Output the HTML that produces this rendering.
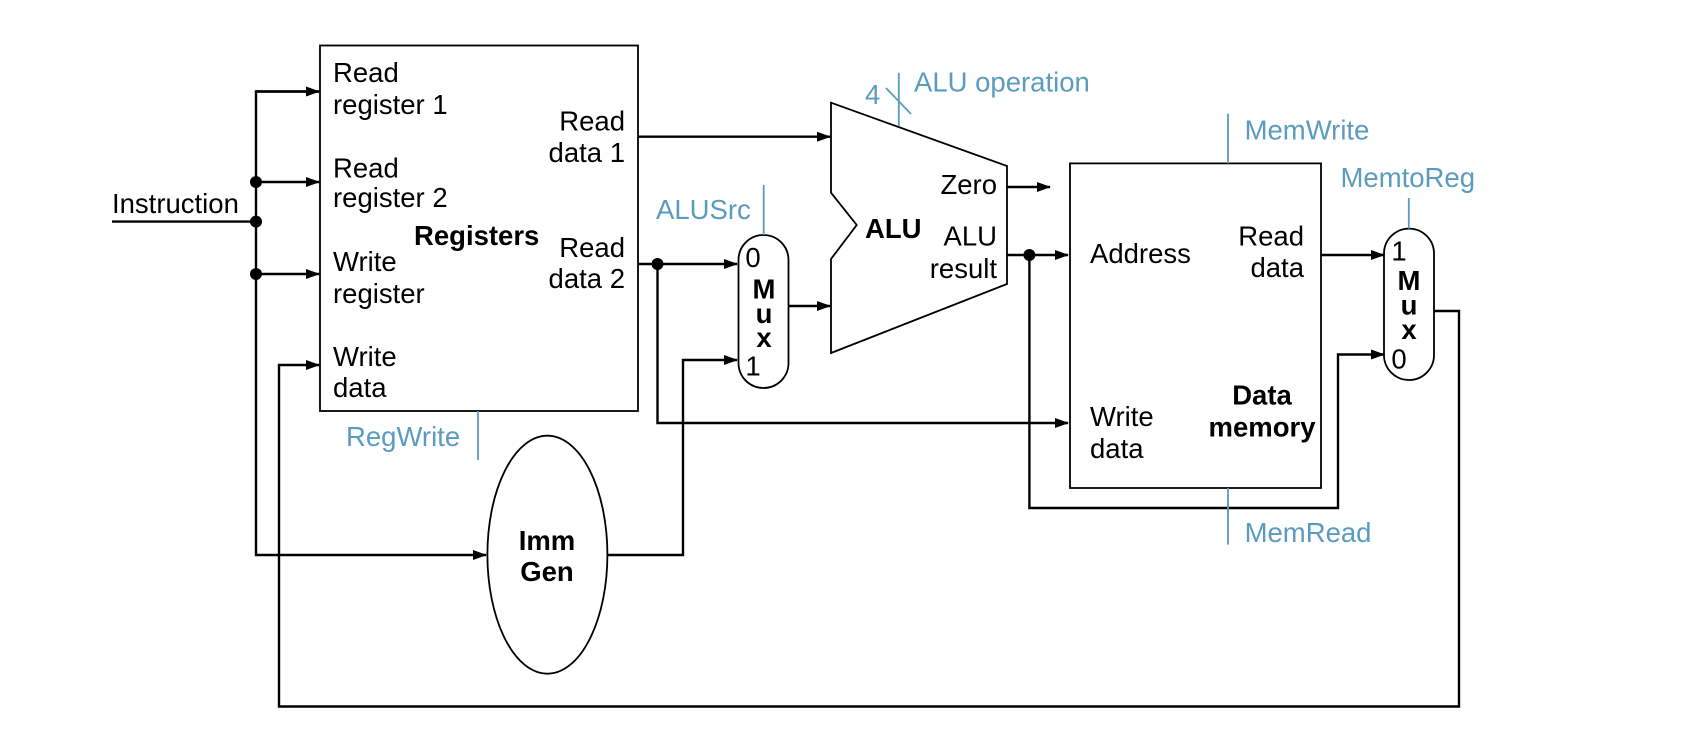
<!DOCTYPE html>
<html><head><meta charset="utf-8"><style>
body{margin:0;background:#fff}
svg{display:block}
text{font-family:"Liberation Sans",Arial,sans-serif;font-size:27.5px;fill:#000}
.b{font-weight:bold}
.c{fill:#5b9bc0}
</style></head><body>
<svg width="1694" height="736" viewBox="0 0 1694 736" xmlns="http://www.w3.org/2000/svg">
<defs><marker id="a" markerWidth="14" markerHeight="10" refX="13" refY="5" orient="auto" markerUnits="userSpaceOnUse"><path d="M0,0 L14,5 L0,10 Z" fill="#000"/></marker></defs>
<g fill="none" stroke="#000" stroke-width="2.4">
<rect x="320" y="45.5" width="318" height="365.5" stroke-width="1.8"/>
<line x1="112" y1="221.6" x2="256" y2="221.6"/>
<polyline points="319,91.5 256,91.5 256,555 486,555" marker-end="url(#a)"/>
<line x1="256" y1="182" x2="319" y2="182" marker-end="url(#a)"/>
<line x1="256" y1="274" x2="319" y2="274" marker-end="url(#a)"/>
<polyline points="256,91.5 319,91.5" marker-end="url(#a)"/>
<polyline points="1434,311 1459,311 1459,706.5 279,706.5 279,365 319,365" marker-end="url(#a)"/>
<line x1="638" y1="136.7" x2="830" y2="136.7" marker-end="url(#a)"/>
<line x1="638" y1="264" x2="737" y2="264" marker-end="url(#a)"/>
<polyline points="657.5,264 657.5,423 1068,423" marker-end="url(#a)"/>
<ellipse cx="547.4" cy="554.7" rx="60" ry="119" stroke-width="1.8"/>
<polyline points="607,555 683,555 683,360 737,360" marker-end="url(#a)"/>
<rect x="738.5" y="235" width="50" height="153" rx="25" ry="25" stroke-width="1.8"/>
<line x1="789" y1="306" x2="830" y2="306" marker-end="url(#a)"/>
<polygon points="831,102.7 1007,166 1007,284 831,353 831,259 856.7,225 831,192.7" stroke-width="1.8"/>
<line x1="1007" y1="187" x2="1050" y2="187" marker-end="url(#a)"/>
<line x1="1007" y1="255" x2="1068" y2="255" marker-end="url(#a)"/>
<polyline points="1029.4,255 1029.4,508 1338,508 1338,354.5 1384,354.5" marker-end="url(#a)"/>
<rect x="1070" y="163.4" width="251" height="324.6" stroke-width="1.8"/>
<line x1="1321" y1="255" x2="1384" y2="255" marker-end="url(#a)"/>
<rect x="1384" y="228.6" width="50" height="151.4" rx="25" ry="25" stroke-width="1.8"/>
</g>
<g fill="#000">
<circle cx="256" cy="182" r="6"/><circle cx="256" cy="221.6" r="6"/><circle cx="256" cy="274" r="6"/>
<circle cx="657.5" cy="264" r="6"/><circle cx="1029.4" cy="255" r="6"/>
</g>
<g stroke="#5b9bc0" stroke-width="1.8">
<line x1="478" y1="411" x2="478" y2="460"/>
<line x1="763.7" y1="185" x2="763.7" y2="235"/>
<line x1="898.8" y1="72.8" x2="898.8" y2="126"/>
<line x1="886" y1="88" x2="911" y2="114"/>
<line x1="1228" y1="113.6" x2="1228" y2="163.4"/>
<line x1="1228" y1="488" x2="1228" y2="544.6"/>
<line x1="1408.8" y1="198" x2="1408.8" y2="228.6"/>
</g>
<text x="112" y="213">Instruction</text>
<text x="333" y="82">Read</text><text x="333" y="114">register 1</text>
<text x="333" y="177.5">Read</text><text x="333" y="207">register 2</text>
<text x="333" y="271">Write</text><text x="333" y="303">register</text>
<text x="333" y="366">Write</text><text x="333" y="397">data</text>
<text x="414" y="245" class="b">Registers</text>
<text x="625" y="130.5" text-anchor="end">Read</text><text x="625" y="162" text-anchor="end">data 1</text>
<text x="625" y="257" text-anchor="end">Read</text><text x="625" y="288" text-anchor="end">data 2</text>
<text x="346" y="446" class="c">RegWrite</text>
<text x="656" y="219" class="c">ALUSrc</text>
<text x="753" y="267" text-anchor="middle">0</text>
<text x="764" y="298.6" text-anchor="middle" class="b">M</text>
<text x="764" y="323" text-anchor="middle" class="b">u</text>
<text x="764" y="347" text-anchor="middle" class="b">x</text>
<text x="753" y="375.5" text-anchor="middle">1</text>
<text x="547" y="550" text-anchor="middle" class="b">Imm</text>
<text x="547" y="581" text-anchor="middle" class="b">Gen</text>
<text x="865" y="104" class="c">4</text>
<text x="914" y="91.5" class="c">ALU operation</text>
<text x="865" y="238" class="b">ALU</text>
<text x="997" y="194" text-anchor="end">Zero</text>
<text x="997" y="245.5" text-anchor="end">ALU</text>
<text x="997" y="278" text-anchor="end">result</text>
<text x="1244.6" y="139.4" class="c">MemWrite</text>
<text x="1340.5" y="187" class="c">MemtoReg</text>
<text x="1244.6" y="542" class="c">MemRead</text>
<text x="1090" y="263">Address</text>
<text x="1304" y="245.5" text-anchor="end">Read</text><text x="1304" y="277" text-anchor="end">data</text>
<text x="1090" y="426">Write</text><text x="1090" y="458">data</text>
<text x="1262" y="404.7" text-anchor="middle" class="b">Data</text>
<text x="1262" y="436.6" text-anchor="middle" class="b">memory</text>
<text x="1399" y="260.5" text-anchor="middle">1</text>
<text x="1409" y="290" text-anchor="middle" class="b">M</text>
<text x="1409" y="314.5" text-anchor="middle" class="b">u</text>
<text x="1409" y="339" text-anchor="middle" class="b">x</text>
<text x="1399" y="368.5" text-anchor="middle">0</text>
</svg>
</body></html>
